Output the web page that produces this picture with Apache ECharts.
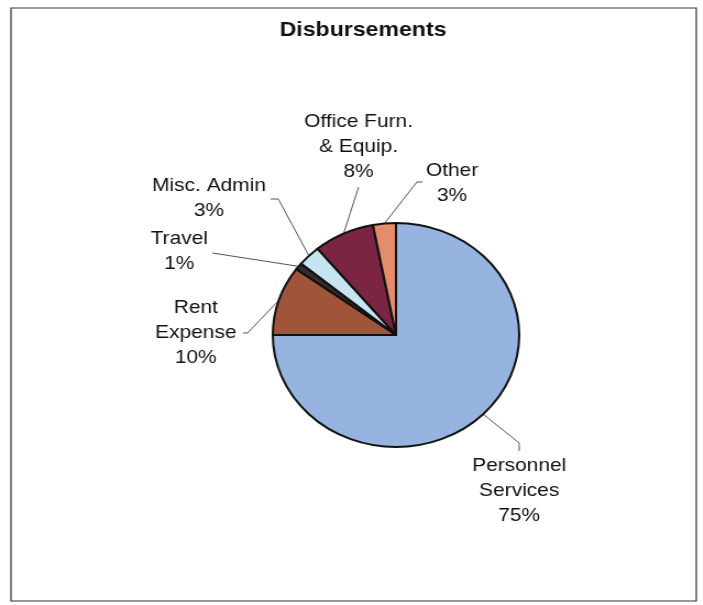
<!DOCTYPE html>
<html>
<head>
<meta charset="utf-8">
<script src="https://cdn.jsdelivr.net/npm/echarts@6/dist/echarts.min.js"></script>
<style>
  html, body { margin: 0; padding: 0; background: #fff; overflow: hidden; }
  #wrap { width: 703px; height: 605px; overflow: hidden; }
  /* the chart is laid out at a narrower width and widened horizontally */
  #chart { width: 639px; height: 605px; transform: scaleX(1.1); transform-origin: 0 0; }
</style>
</head>
<body>
<div id="wrap"><div id="chart"></div></div>
<script>
// Disbursement categories and their shares (percent)
const categories = ['Personnel\nServices', 'Rent\nExpense', 'Travel', 'Misc. Admin', 'Office Furn.\n& Equip.', 'Other'];
const shares = [75, 10, 1, 3, 8, 3];
const sliceColors = ['#97B3DF', '#A0553B', '#3A2A2A', '#C6E4F2', '#7C2443', '#E48C6C'];

// label anchor placement and leader-line bends, per slice
const labelPlacement = [
  { x: 472, y: 453, align: 'center', vAlign: 'top',    bends: [[472, 443], [472, 451]] },
  { x: 178, y: 333, align: 'center', vAlign: 'middle', bends: [[225, 333], [221, 333]] },
  { x: 163, y: 251, align: 'center', vAlign: 'middle', bends: [[193, 253]] },
  { x: 190, y: 198, align: 'center', vAlign: 'middle', bends: [[253, 199], [246, 199]] },
  { x: 326, y: 147, align: 'center', vAlign: 'middle', bends: [[326, 187]] },
  { x: 411, y: 183, align: 'center', vAlign: 'middle', bends: [[379, 182], [384, 182]] }
];

const chart = echarts.init(document.getElementById('chart'), null, { renderer: 'canvas' });

const pieData = categories.map((name, i) => ({
  name: name,
  value: shares[i],
  itemStyle: { color: sliceColors[i] }
}));

chart.setOption({
  backgroundColor: '#ffffff',
  animation: false,
  title: {
    text: 'Disbursements',
    left: 325,
    top: 15,
    textAlign: 'center',
    textStyle: { fontFamily: 'Liberation Sans, Arial, sans-serif', fontSize: 21, fontWeight: 'bold', color: '#111' }
  },
  graphic: [{
    type: 'rect',
    shape: { x: 10, y: 8, width: 623, height: 593 },
    style: { fill: 'none', stroke: '#333', lineWidth: 1.2 },
    silent: true
  }],
  series: [{
    type: 'pie',
    center: [360, 335],
    radius: 112,
    startAngle: 90,
    clockwise: true,
    avoidLabelOverlap: false,
    data: pieData,
    itemStyle: { borderColor: '#111', borderWidth: 2 },
    label: {
      show: true,
      position: 'outside',
      formatter: p => p.name + '\n' + Math.round(p.percent) + '%',
      fontFamily: 'Liberation Sans, Arial, sans-serif',
      fontSize: 19,
      lineHeight: 25,
      color: '#111',
      align: 'center'
    },
    labelLine: {
      show: true,
      length: 20,
      length2: 10,
      lineStyle: { color: '#555', width: 1 }
    },
    labelLayout: function (params) {
      const lp = labelPlacement[params.dataIndex];
      const pts = params.labelLinePoints;
      const out = {
        x: lp.x,
        y: lp.y,
        align: lp.align,
        verticalAlign: lp.vAlign
      };
      if (pts) {
        // arc point -> bend(s) -> end at label
        out.labelLinePoints = [pts[0]].concat(lp.bends);
      }
      return out;
    }
  }]
});
</script>
</body>
</html>
